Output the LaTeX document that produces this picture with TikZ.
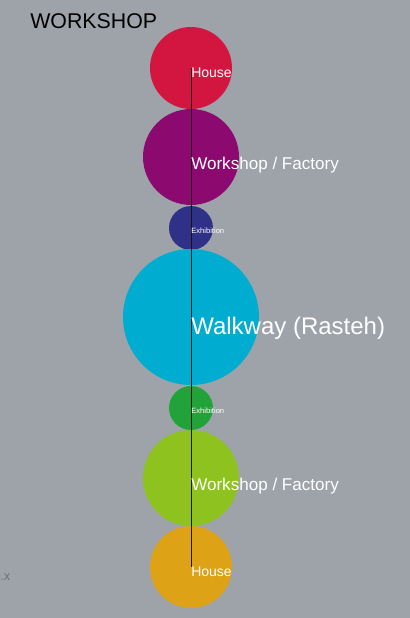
\documentclass[tikz,border=0pt]{standalone}
\usepackage{fontspec}
\setmainfont{Liberation Sans}
\definecolor{bg}{HTML}{9EA3AA}
\definecolor{houseT}{HTML}{D3163F}
\definecolor{shopT}{HTML}{8C0A6F}
\definecolor{exhibT}{HTML}{2F3087}
\definecolor{walk}{HTML}{00ADD0}
\definecolor{exhibB}{HTML}{22A33A}
\definecolor{shopB}{HTML}{8DC21F}
\definecolor{houseB}{HTML}{DDA216}
\begin{document}
\begin{tikzpicture}[x=0.75pt,y=-0.75pt]
\def\ax{191}   % x of the common axis
% background, fixes the page
\fill[bg] (0,0) rectangle (410,618);
\useasboundingbox (0,0) rectangle (410,618);
% title and the stray mark at the left edge
\node[anchor=west,inner sep=0,font=\fontsize{16}{18}\selectfont] (title) at (30,21) {WORKSHOP};
\node[anchor=west,inner sep=0,text=black!55,font=\fontsize{9.5}{10}\selectfont] (mark) at (0,577) {.x};
% the circles, top to bottom: index/centre y/radius/colour
\foreach \i/\y/\r/\col in {1/68/41/houseT,2/157/48/shopT,3/228/22/exhibT,4/317/68/walk,5/408/22/exhibB,6/478/48/shopB,7/567/41/houseB}{
  \node[circle,fill=\col,inner sep=0,minimum size=\r*1.5pt] (c\i) at (\ax,\y) {};
}
% the axis through the centres
\draw[line width=0.6pt,black!85!brown] (c1.center) -- (c7.center);
% labels hang from the centres: index/size in pt/text
\foreach \i/\fs/\txt in {1/10.5/House,2/12.8/{Workshop / Factory},3/5.7/Exhibition,4/18/{Walkway (Rasteh)},5/5.7/Exhibition,6/12.8/{Workshop / Factory},7/10.5/House}{
  \node[anchor=north west,inner sep=0,text=white,font=\fontsize{\fs}{\fs}\selectfont] (l\i) at (c\i.center) {\txt};
}
\end{tikzpicture}
\end{document}
